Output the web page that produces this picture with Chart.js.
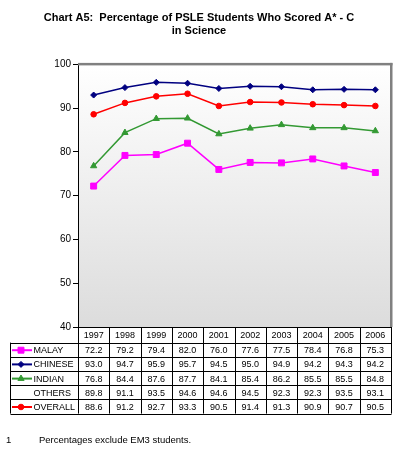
<!DOCTYPE html>
<html><head><meta charset="utf-8">
<script src="https://cdn.jsdelivr.net/npm/chart.js@4/dist/chart.umd.min.js"></script>
<style>html,body{margin:0;padding:0;background:#fff;}canvas{display:block;}</style>
</head><body>
<canvas id="c" width="399" height="451"></canvas>
<script>
const years = ['1997','1998','1999','2000','2001','2002','2003','2004','2005','2006'];
const malay = [72.2, 79.2, 79.4, 82.0, 76.0, 77.6, 77.5, 78.4, 76.8, 75.3];
const chinese = [93.0, 94.7, 95.9, 95.7, 94.5, 95.0, 94.9, 94.2, 94.3, 94.2];
const indian = [76.8, 84.4, 87.6, 87.7, 84.1, 85.4, 86.2, 85.5, 85.5, 84.8];
const others = [89.8, 91.1, 93.5, 94.6, 94.6, 94.5, 92.3, 92.3, 93.5, 93.1];
const overall = [88.6, 91.2, 92.7, 93.3, 90.5, 91.4, 91.3, 90.9, 90.7, 90.5];
const yTicks = [40, 50, 60, 70, 80, 90, 100];
const titleLines = ['Chart A5:  Percentage of PSLE Students Who Scored A* - C', 'in Science'];
const footnoteNumber = '1';
const footnoteText = 'Percentages exclude EM3 students.';

const FONT = '"Liberation Sans", Arial, sans-serif';

// table rows (label, values, style) ; OTHERS is table-only
const rows = [
  {label: 'MALAY', data: malay, color: '#ff00ff', style: 'rect', radius: 4.2, plotted: true},
  {label: 'CHINESE', data: chinese, color: '#000080', style: 'rectRot', radius: 3, plotted: true},
  {label: 'INDIAN', data: indian, color: '#339933', style: 'triangle', radius: 3.6, plotted: true},
  {label: 'OTHERS', data: others, color: null, style: null, radius: 0, plotted: false},
  {label: 'OVERALL', data: overall, color: '#ff0000', style: 'circle', radius: 2.8, plotted: true}
];

const datasets = rows.filter(r => r.plotted).map(r => ({
  label: r.label,
  data: r.data,
  borderColor: r.color,
  backgroundColor: r.color,
  borderWidth: 1.5,
  pointStyle: r.style,
  pointRadius: r.radius,
  pointBorderWidth: 1,
  pointBackgroundColor: r.color,
  pointBorderColor: r.color,
  tension: 0,
  fill: false
}));

const px = v => Math.round(v) + 0.5;

const tablePlugin = {
  id: 'dataTable',
  beforeDraw(chart) {
    const {ctx, chartArea: a} = chart;
    const g = ctx.createLinearGradient(0, a.top, 0, a.bottom);
    g.addColorStop(0, '#ffffff');
    g.addColorStop(1, '#dcdcdc');
    ctx.save();
    ctx.fillStyle = g;
    ctx.fillRect(a.left, a.top, a.right - a.left, a.bottom - a.top);
    ctx.restore();
  },
  afterDraw(chart) {
    const {ctx, chartArea: a} = chart;
    const xs = chart.scales.x;
    const n = years.length;
    const w = (a.right - a.left) / n;
    const headerH = 15.6, rowH = 14.2, tableLeft = 10.5;
    const y0 = a.bottom, y1 = y0 + headerH;
    const yEnd = y1 + rows.length * rowH;
    ctx.save();
    // frame shadow: top and right gray
    ctx.fillStyle = '#808080';
    ctx.fillRect(a.left, a.top - 1.5, a.right - a.left + 1.5, 2.5);
    ctx.fillRect(a.right - 1, a.top - 1.5, 2.5, a.bottom - a.top + 1.5);
    // bottom axis line
    ctx.strokeStyle = '#000';
    ctx.lineWidth = 1;
    ctx.beginPath();
    ctx.moveTo(a.left, px(a.bottom)); ctx.lineTo(a.right + 1, px(a.bottom));
    // vertical lines
    for (let i = 0; i <= n; i++) {
      const x = px(a.left + i * w);
      ctx.moveTo(x, y0); ctx.lineTo(x, yEnd);
    }
    ctx.moveTo(tableLeft, y1); ctx.lineTo(tableLeft, yEnd);
    // horizontal lines
    for (let r = 0; r <= rows.length; r++) {
      const y = px(y1 + r * rowH);
      ctx.moveTo(tableLeft, y); ctx.lineTo(px(a.right), y);
    }
    ctx.stroke();
    // header
    ctx.fillStyle = '#000';
    ctx.font = '9px ' + FONT;
    ctx.textAlign = 'center';
    ctx.textBaseline = 'middle';
    years.forEach((yr, i) => {
      ctx.fillText(yr, xs.getPixelForValue(i), y0 + headerH / 2 + 1);
    });
    // rows
    rows.forEach((r, ri) => {
      const cy = y1 + ri * rowH + rowH / 2 + 0.5;
      if (r.plotted) {
        ctx.strokeStyle = r.color;
        ctx.lineWidth = 2;
        ctx.beginPath();
        ctx.moveTo(12, cy); ctx.lineTo(32, cy);
        ctx.stroke();
        ctx.fillStyle = r.color;
        ctx.strokeStyle = r.color;
        ctx.lineWidth = 1;
        Chart.helpers.drawPoint(ctx, {pointStyle: r.style, radius: r.radius, borderWidth: 1, rotation: 0}, 21, cy);
      }
      ctx.fillStyle = '#000';
      ctx.textAlign = 'left';
      ctx.fillText(r.label, 33.5, cy + 0.5);
      ctx.textAlign = 'center';
      r.data.forEach((v, i) => {
        ctx.fillText(v.toFixed(1), xs.getPixelForValue(i), cy + 0.5);
      });
    });
    // footnote
    ctx.textAlign = 'left';
    ctx.font = '9.5px ' + FONT;
    ctx.fillText(footnoteNumber, 6, 440);
    ctx.fillText(footnoteText, 39, 440);
    ctx.restore();
  }
};

new Chart(document.getElementById('c'), {
  type: 'line',
  data: {labels: years, datasets: datasets},
  plugins: [tablePlugin],
  options: {
    responsive: false,
    animation: false,
    devicePixelRatio: 1,
    layout: {padding: {left: 7, right: 8, top: 11, bottom: 124}},
    plugins: {
      legend: {display: false},
      tooltip: {enabled: false},
      title: {
        display: true,
        text: titleLines,
        color: '#000',
        font: {family: FONT, size: 11, weight: 'bold', lineHeight: 1.2},
        padding: {top: 0, bottom: 27}
      }
    },
    scales: {
      x: {type: 'category', display: false, offset: true},
      y: {
        min: 40, max: 100,
        afterBuildTicks: s => { s.ticks = yTicks.map(v => ({value: v})); },
        afterFit: s => { s.width = 71; },
        ticks: {color: '#000', font: {family: FONT, size: 10}, padding: 2},
        grid: {display: true, drawOnChartArea: false, drawTicks: true, tickLength: 5, color: '#000'},
        border: {display: true, color: '#000', width: 1}
      }
    }
  }
});
</script>
</body></html>
